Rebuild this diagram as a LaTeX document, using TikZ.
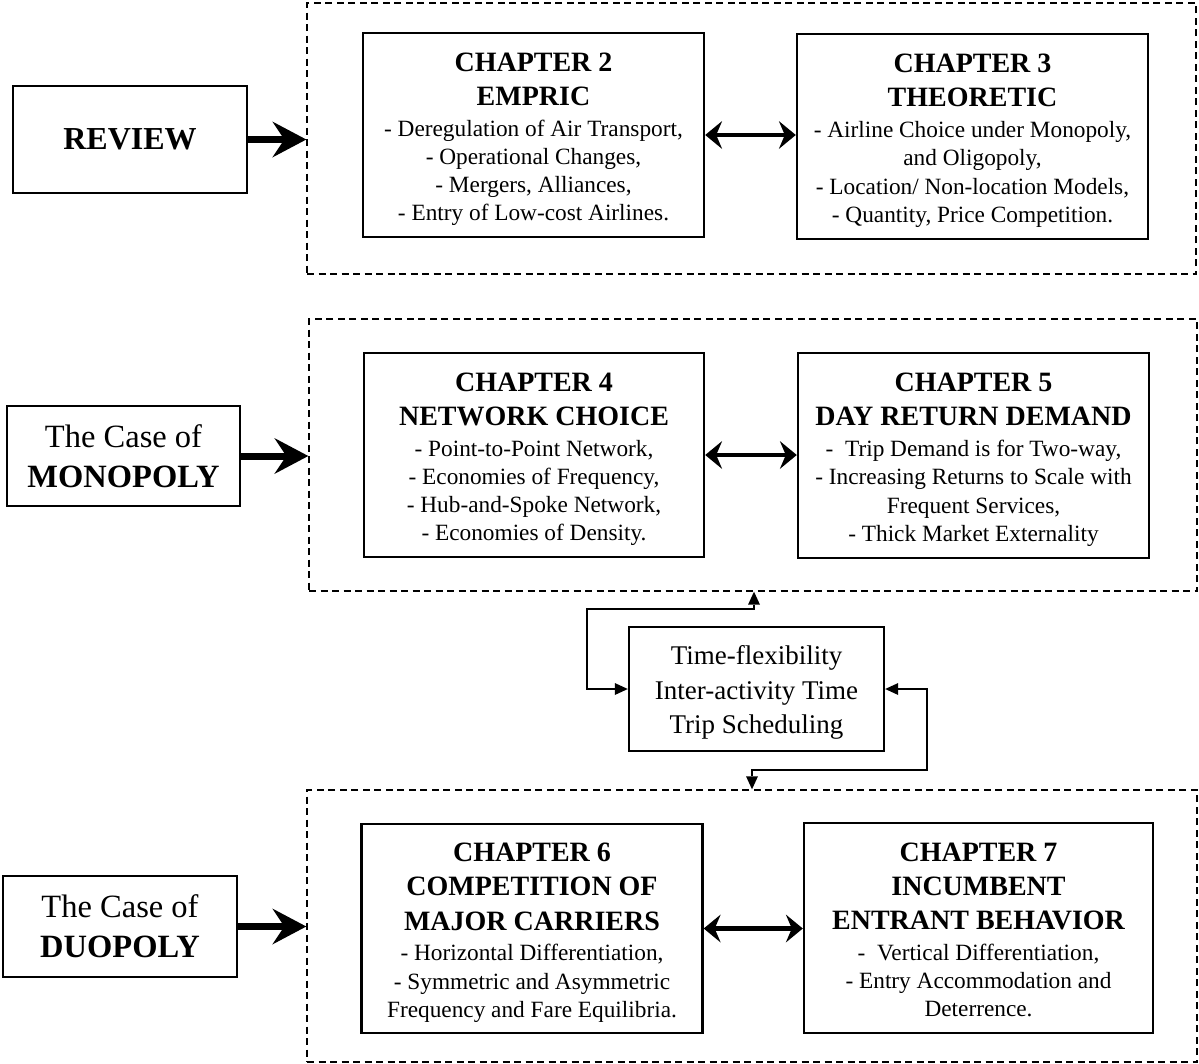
\documentclass[tikz,border=0pt]{standalone}
\usepackage{fontspec}
\setmainfont{Liberation Serif}
\usetikzlibrary{arrows.meta}
\newcommand{\bodyfnt}{\fontsize{23.3}{28.3}\selectfont}
\newcommand{\chtitle}[1]{{\fontsize{28}{28.3}\selectfont\bfseries #1}}
\newcommand{\chfirst}[1]{\rule{0pt}{27pt}\chtitle{#1}}
\newcommand{\lastdp}{\rule[-5pt]{0pt}{5pt}}
\tikzset{
  chapbox/.style={draw, line width=2.4pt, inner sep=0pt, align=center, font=\bodyfnt},
  casebox/.style={draw, line width=2.4pt, inner sep=0pt, align=center, font=\fontsize{32.5}{39.6}\selectfont},
  groupbox/.style={draw, dash pattern=on 7pt off 4.5pt, line width=1.4pt, inner sep=0pt},
  bigarrow/.style={line width=7pt, -{Stealth[length=34pt,width=36pt,inset=12pt,line width=0pt]}},
  dblarrow/.style={line width=4.5pt, {Stealth[length=17pt,width=28pt,inset=6pt,line width=0pt]}-{Stealth[length=17pt,width=28pt,inset=6pt,line width=0pt]}},
  smallarrow/.style={line width=2pt, {Triangle[length=13pt,width=12pt,line width=0pt]}-{Triangle[length=13pt,width=12pt,line width=0pt]}}
}
\begin{document}
\begin{tikzpicture}[x=1pt,y=-1pt]
\useasboundingbox (0,0) rectangle (1199,1063);
% groups
\node[groupbox, minimum width=889, minimum height=271] (g1) at (751.5,138.5) {};
\node[groupbox, minimum width=888, minimum height=272] (g2) at (753,455) {};
\node[groupbox, minimum width=890, minimum height=272] (g3) at (752,926) {};
% left boxes
\node[casebox, minimum width=234, minimum height=107, font=\fontsize{32}{38}\selectfont\bfseries] (rev) at (130,139.5) {REVIEW};
\node[casebox, minimum width=233, minimum height=100.3] (mono) at (123.5,456) {The Case of\\\textbf{MONOPOLY}};
\node[casebox, minimum width=234, minimum height=101] (duo) at (120,926.5) {The Case of\\\textbf{DUOPOLY}};
% chapters
\node[chapbox, minimum width=341, minimum height=204] (c2) at (533.5,135) {\chfirst{CHAPTER 2}\\[6pt]\chtitle{EMPRIC}\\[2.4pt]- Deregulation of Air Transport,\\- Operational Changes,\\- Mergers, Alliances,\\- Entry of Low-cost Airlines.\lastdp};
\node[chapbox, minimum width=351, minimum height=205] (c3) at (972.5,136.5) {\chfirst{CHAPTER 3}\\[6pt]\chtitle{THEORETIC}\\[2.4pt]- Airline Choice under Monopoly,\\and Oligopoly,\\- Location/ Non-location Models,\\- Quantity, Price Competition.\lastdp};
\node[chapbox, minimum width=340, minimum height=204] (c4) at (534,455) {\chfirst{CHAPTER 4}\\[6pt]\chtitle{NETWORK CHOICE}\\[2.4pt]- Point-to-Point Network,\\- Economies of Frequency,\\- Hub-and-Spoke Network,\\- Economies of Density.\lastdp};
\node[chapbox, minimum width=351, minimum height=205] (c5) at (973.5,455.5) {\chfirst{CHAPTER 5}\\[6pt]\chtitle{DAY RETURN DEMAND}\\[2.4pt]- \ Trip Demand is for Two-way,\\- Increasing Returns to Scale with\\Frequent Services,\\- Thick Market Externality\lastdp};
\node[chapbox, minimum width=341, minimum height=209] (c6) at (532,928.5) {\chfirst{CHAPTER 6}\\[6pt]\chtitle{COMPETITION OF}\\[6pt]\chtitle{MAJOR CARRIERS}\\[2.4pt]- Horizontal Differentiation,\\- Symmetric and Asymmetric\\Frequency and Fare Equilibria.\lastdp};
\node[chapbox, minimum width=349, minimum height=210] (c7) at (978.5,928) {\chfirst{CHAPTER 7}\\[6pt]\chtitle{INCUMBENT}\\[6pt]\chtitle{ENTRANT BEHAVIOR}\\[2.4pt]- \ Vertical Differentiation,\\- Entry Accommodation and\\Deterrence.\lastdp};
% time box
\node[draw, line width=2.4pt, inner sep=0pt, minimum width=255, minimum height=124, align=center, font=\fontsize{27}{34.8}\selectfont] (tb) at (756.5,689) {\rule{0pt}{26pt}Time-flexibility\\Inter-activity Time\\Trip Scheduling};
% arrows
\draw[bigarrow] (rev.east) -- (rev.east -| g1.west);
\draw[bigarrow] (mono.east) -- (mono.east -| g2.west);
\draw[bigarrow] (duo.east) -- (duo.east -| g3.west);
\draw[dblarrow] (c2.east) -- (c2.east -| c3.west);
\draw[dblarrow] (c4.east) -- (c4.east -| c5.west);
\draw[dblarrow] (c6.east) -- (c6.east -| c7.west);
\coordinate (ux) at (754,609);
\coordinate (dx) at (752,770);
\draw[smallarrow] (tb.west) -- ++(-41,0) |- (ux) -- (ux |- g2.south);
\draw[smallarrow] (tb.east) -- ++(42,0) |- (dx) -- (dx |- g3.north);
\end{tikzpicture}
\end{document}
